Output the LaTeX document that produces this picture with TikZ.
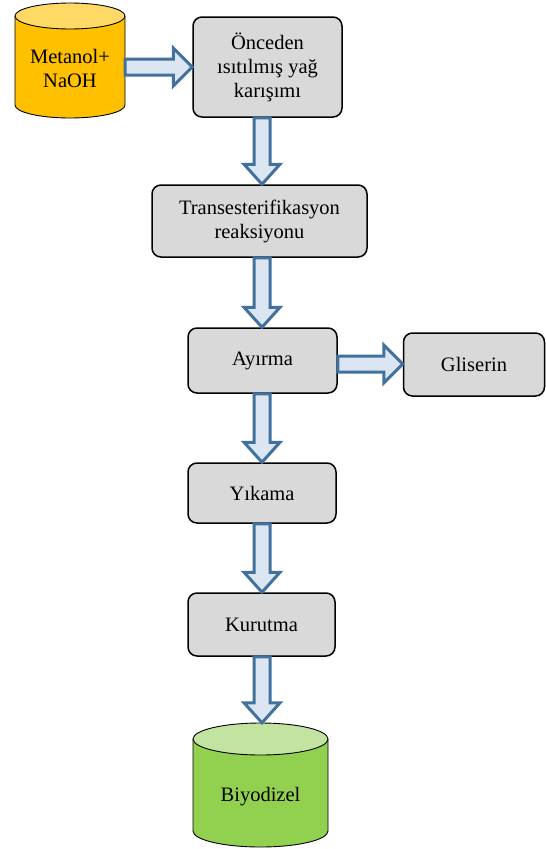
\documentclass[tikz,border=0pt]{standalone}
\usepackage{fontspec}
\setmainfont{Liberation Serif}
\usetikzlibrary{calc}
\definecolor{boxgray}{HTML}{D9D9D9}
\definecolor{arrfill}{HTML}{DCE6F2}
\definecolor{arrline}{HTML}{41719C}
\definecolor{orangebody}{HTML}{FFC000}
\definecolor{orangetop}{HTML}{FFD966}
\definecolor{greenbody}{HTML}{92D050}
\definecolor{greentop}{HTML}{C3E3A0}
\tikzset{
  procbox/.style={draw=black, line width=1.5pt, fill=boxgray, rounded corners=9pt,
    align=center, inner sep=0pt, font=\fontsize{20.5}{24}\selectfont},
  cyltext/.style={inner sep=0pt, align=center, font=\fontsize{20.5}{24}\selectfont},
  blockarrow/.style={draw=arrline, fill=arrfill, line width=3pt, line join=miter, miter limit=10},
  cylline/.style={draw=black, line width=0.9pt}
}
% vertical block arrow at x=#1 from node #2 (south) to node #3 (north)
\newcommand\vblockarrow[3]{%
  \path[blockarrow] let \p1=(#2.south), \p2=(#3.north) in
    (#1-8pt,\y1) -- (#1-8pt,\y2+20pt) -- (#1-18pt,\y2+20pt) -- (#1,\y2)
    -- (#1+18pt,\y2+20pt) -- (#1+8pt,\y2+20pt) -- (#1+8pt,\y1) -- cycle;}
% horizontal block arrow at picture y=#1 from node #2 (east) to node #3 (west)
\newcommand\hblockarrow[3]{%
  \path[blockarrow] let \p1=(#2.east), \p2=(#3.west), \p3=(0,#1) in
    (\x1,\y3+8pt) -- (\x2-19pt,\y3+8pt) -- (\x2-19pt,\y3+19pt) -- (\x2,\y3)
    -- (\x2-19pt,\y3-19pt) -- (\x2-19pt,\y3-8pt) -- (\x1,\y3-8pt) -- cycle;}
\begin{document}
\begin{tikzpicture}[x=1pt,y=-1pt]
\useasboundingbox (0,0) rectangle (546,849);

% Metanol cylinder
\fill[orangebody] (15,16) -- (15,105) arc[start angle=180,end angle=360,x radius=55pt,y radius=13pt] -- (125,16) -- cycle;
\draw[cylline] (15,16) -- (15,105) arc[start angle=180,end angle=360,x radius=55pt,y radius=13pt] -- (125,16);
\draw[cylline, fill=orangetop] (70,16) ellipse[x radius=55pt,y radius=13pt];
\node[inner sep=0pt, minimum width=110pt, minimum height=115pt] (met) at (70,60.5) {};
\node[cyltext] (mettxt) at (70,68) {Metanol+\\NaOH};

% Biyodizel cylinder
\fill[greenbody] (193,739) -- (193,831) arc[start angle=180,end angle=360,x radius=67.5pt,y radius=16pt] -- (328,739) -- cycle;
\draw[cylline] (193,739) -- (193,831) arc[start angle=180,end angle=360,x radius=67.5pt,y radius=16pt] -- (328,739);
\draw[cylline, fill=greentop] (260.5,739) ellipse[x radius=67.5pt,y radius=16pt];
\node[inner sep=0pt, minimum width=135pt, minimum height=124pt] (bio) at (260.5,785) {};
\node[cyltext] (biotxt) at (260.5,797) {Biyodizel};

% Process boxes
\node[procbox, minimum width=149pt, minimum height=100pt] (onc) at (267.5,67) {Önceden\\ısıtılmış yağ\\karışımı};
\node[procbox, minimum width=215pt, minimum height=72pt] (tra) at (259.5,221) {Transesterifikasyon\\reaksiyonu};
\node[procbox, minimum width=149pt, minimum height=65pt] (ayr) at (262.5,360.5) {Ayırma};
\node[procbox, minimum width=141pt, minimum height=63pt] (gli) at (474,364.5) {Gliserin};
\node[procbox, minimum width=148pt, minimum height=60pt] (yik) at (262,493) {Yıkama};
\node[procbox, minimum width=147pt, minimum height=63pt] (kur) at (261.5,624.5) {Kurutma};

% Block arrows
\hblockarrow{67}{met}{onc}
\vblockarrow{262pt}{onc}{tra}
\vblockarrow{262pt}{tra}{ayr}
\hblockarrow{364}{ayr}{gli}
\vblockarrow{262pt}{ayr}{yik}
\vblockarrow{262pt}{yik}{kur}
\vblockarrow{262pt}{kur}{bio}
\end{tikzpicture}
\end{document}
